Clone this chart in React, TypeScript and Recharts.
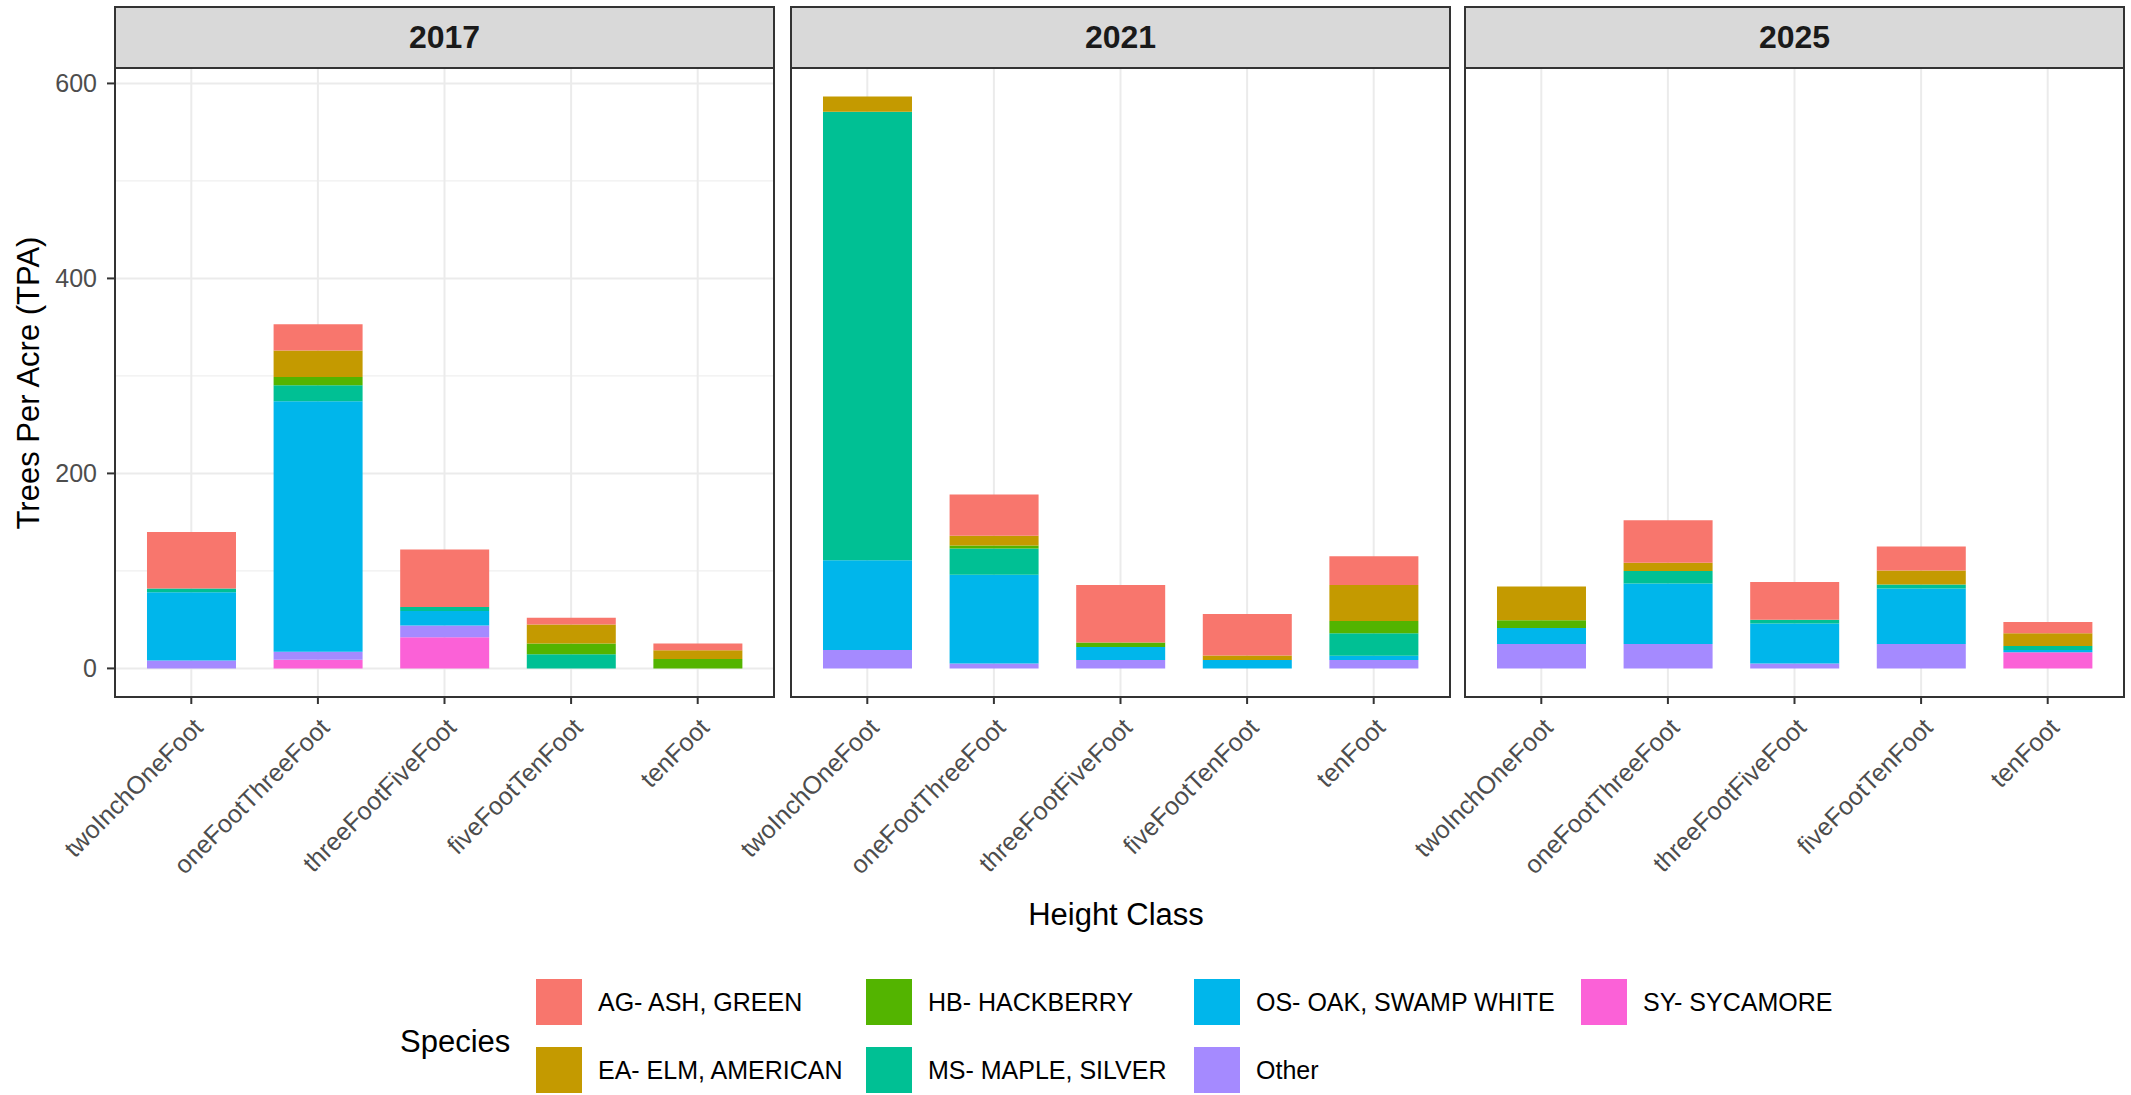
import React from 'react';
import { BarChart, Bar, XAxis, YAxis, CartesianGrid } from 'recharts';

const HEIGHT_CLASSES = ['twoInchOneFoot', 'oneFootThreeFoot', 'threeFootFiveFoot', 'fiveFootTenFoot', 'tenFoot'];
const YEARS = ['2017', '2021', '2025'];

// stack order: first key sits at the bottom of each bar
const STACK_ORDER = ['SY', 'Other', 'OS', 'MS', 'HB', 'EA', 'AG'];
// legend is filled column by column
const LEGEND_ORDER = ['AG', 'EA', 'HB', 'MS', 'OS', 'Other', 'SY'];

const SPECIES_LABELS: Record<string, string> = {
  AG: 'AG- ASH, GREEN',
  EA: 'EA- ELM, AMERICAN',
  HB: 'HB- HACKBERRY',
  MS: 'MS- MAPLE, SILVER',
  OS: 'OS- OAK, SWAMP WHITE',
  Other: 'Other',
  SY: 'SY- SYCAMORE',
};

const SPECIES_COLORS: Record<string, string> = {
  AG: '#F8766D',
  EA: '#C49A00',
  HB: '#53B400',
  MS: '#00C094',
  OS: '#00B6EB',
  Other: '#A58AFF',
  SY: '#FB61D7',
};

// trees per acre, one value per height class
const TPA_2017: Record<string, number[]> = {
  AG: [58, 27, 59, 7, 7],
  EA: [0, 27, 0, 19.5, 9],
  HB: [0, 8.5, 0, 11, 9.6],
  MS: [4, 16.5, 4, 14.5, 0],
  OS: [70, 257, 15, 0, 0],
  Other: [8, 8, 12, 0, 0],
  SY: [0, 9, 32, 0, 0],
};

const TPA_2021: Record<string, number[]> = {
  AG: [0, 42.5, 59, 42.5, 29.5],
  EA: [15.5, 10, 0, 4.8, 37],
  HB: [0, 3, 4.5, 0, 12.5],
  MS: [460, 27, 0, 0, 23],
  OS: [92, 91, 13.5, 8.5, 4.5],
  Other: [19, 5, 8.5, 0, 8.5],
  SY: [0, 0, 0, 0, 0],
};

const TPA_2025: Record<string, number[]> = {
  AG: [0, 43.5, 38.5, 24.5, 11.5],
  EA: [34.5, 8.5, 0, 14.5, 13],
  HB: [8, 0, 0, 0, 0],
  MS: [0, 13, 4, 4, 4],
  OS: [16.5, 62, 41, 57, 2.5],
  Other: [25, 25, 5, 25, 0],
  SY: [0, 0, 0, 0, 16.5],
};

const TPA_BY_YEAR = [TPA_2017, TPA_2021, TPA_2025];

const Y_TICKS = [0, 200, 400, 600];
const Y_MINOR = [100, 300, 500];

const FONT = '"Liberation Sans", Arial, Helvetica, sans-serif';

const PANEL_LEFTS = [115, 791, 1465];
const PANEL_W = 659;
const Y_AXIS_W = 115;
const STRIP_TOP = 7;
const PLOT_TOP = 68;
const PLOT_H = 629;
const XAXIS_H = 200;

function buildRows(tpa: Record<string, number[]>) {
  return HEIGHT_CLASSES.map((name, i) => {
    const row: Record<string, string | number> = { name };
    STACK_ORDER.forEach((k) => {
      row[k] = tpa[k][i];
    });
    return row;
  });
}

// ggplot-style 5% expansion around the tallest stack
const maxStack = Math.max(
  ...TPA_BY_YEAR.flatMap((tpa) =>
    HEIGHT_CLASSES.map((_, i) => STACK_ORDER.reduce((s, k) => s + tpa[k][i], 0))
  )
);
const Y_DOMAIN: [number, number] = [-0.05 * maxStack, 1.05 * maxStack];

function AngledTick(props: any) {
  const { x, y, payload } = props;
  return (
    <g transform={`translate(${x},${y})`}>
      <text
        transform="rotate(-45)"
        textAnchor="end"
        dy="0.74em"
        fill="#4D4D4D"
        fontSize={25}
        fontFamily={FONT}
      >
        {payload.value}
      </text>
    </g>
  );
}

function Panel({ year, tpa, index }: { year: string; tpa: Record<string, number[]>; index: number }) {
  const left = PANEL_LEFTS[index];
  const showY = index === 0;
  const data = buildRows(tpa);
  return (
    <>
      <div
        style={{
          position: 'absolute',
          left: left - 1,
          top: STRIP_TOP - 1,
          width: PANEL_W + 2,
          height: PLOT_TOP - STRIP_TOP + 2,
          boxSizing: 'border-box',
          background: '#D9D9D9',
          border: '2px solid #333333',
          display: 'flex',
          alignItems: 'center',
          justifyContent: 'center',
          fontFamily: FONT,
          fontWeight: 'bold',
          fontSize: 32,
          color: '#1A1A1A',
        }}
      >
        {year}
      </div>
      {/* every panel keeps the same left gutter so rotated labels are not clipped */}
      <div style={{ position: 'absolute', left: left - Y_AXIS_W, top: PLOT_TOP }}>
        <BarChart
          width={PANEL_W + Y_AXIS_W}
          height={PLOT_H + XAXIS_H}
          data={data}
          margin={{ top: 0, right: 0, bottom: 0, left: 0 }}
          barCategoryGap="15%"
        >
          <CartesianGrid horizontalValues={Y_MINOR} vertical={false} stroke="#EBEBEB" strokeWidth={1} />
          <CartesianGrid horizontalValues={Y_TICKS} stroke="#EBEBEB" strokeWidth={2} />
          <XAxis
            dataKey="name"
            type="category"
            interval={0}
            padding={{ left: 13, right: 13 }}
            height={XAXIS_H}
            axisLine={false}
            tickSize={7}
            tickMargin={12}
            tickLine={{ stroke: '#333333', strokeWidth: 2 }}
            tick={<AngledTick />}
          />
          <YAxis
            type="number"
            domain={Y_DOMAIN}
            allowDataOverflow
            ticks={Y_TICKS}
            width={Y_AXIS_W}
            axisLine={false}
            tickSize={8}
            tickMargin={10}
            tickLine={showY ? { stroke: '#333333', strokeWidth: 2 } : false}
            tick={showY ? { fill: '#4D4D4D', fontSize: 25, fontFamily: FONT } : false}
          />
          {STACK_ORDER.map((k) => (
            <Bar key={k} dataKey={k} stackId="tpa" fill={SPECIES_COLORS[k]} isAnimationActive={false} />
          ))}
        </BarChart>
      </div>
      <div
        style={{
          position: 'absolute',
          left: left - 1,
          top: PLOT_TOP - 1,
          width: PANEL_W + 2,
          height: PLOT_H + 2,
          boxSizing: 'border-box',
          border: '2px solid #333333',
          pointerEvents: 'none',
        }}
      />
    </>
  );
}

function LegendBlock() {
  const colX = [536, 866, 1194, 1581];
  const rowY = [979, 1047];
  return (
    <>
      <div
        style={{
          position: 'absolute',
          left: 400,
          top: 1042 - 20,
          height: 40,
          lineHeight: '40px',
          fontFamily: FONT,
          fontSize: 31,
          color: '#000',
        }}
      >
        Species
      </div>
      {LEGEND_ORDER.map((k, i) => {
        const col = Math.floor(i / 2);
        const row = i % 2;
        return (
          <React.Fragment key={k}>
            <div
              style={{
                position: 'absolute',
                left: colX[col],
                top: rowY[row],
                width: 46,
                height: 46,
                background: SPECIES_COLORS[k],
              }}
            />
            <div
              style={{
                position: 'absolute',
                left: colX[col] + 62,
                top: rowY[row],
                height: 46,
                lineHeight: '46px',
                fontFamily: FONT,
                fontSize: 25,
                color: '#000',
                whiteSpace: 'nowrap',
              }}
            >
              {SPECIES_LABELS[k]}
            </div>
          </React.Fragment>
        );
      })}
    </>
  );
}

export default function App() {
  return (
    <div
      style={{
        position: 'absolute',
        left: 0,
        top: 0,
        width: 2131,
        height: 1095,
        background: '#fff',
        overflow: 'hidden',
      }}
    >
      {YEARS.map((year, i) => (
        <Panel key={year} year={year} tpa={TPA_BY_YEAR[i]} index={i} />
      ))}
      <div
        style={{
          position: 'absolute',
          left: 29 - 200,
          top: PLOT_TOP + PLOT_H / 2 - 20,
          width: 400,
          height: 40,
          lineHeight: '40px',
          textAlign: 'center',
          transform: 'rotate(-90deg)',
          fontFamily: FONT,
          fontSize: 31,
          color: '#000',
        }}
      >
        Trees Per Acre (TPA)
      </div>
      <div
        style={{
          position: 'absolute',
          left: 1116 - 200,
          top: 915 - 20,
          width: 400,
          height: 40,
          lineHeight: '40px',
          textAlign: 'center',
          fontFamily: FONT,
          fontSize: 31,
          color: '#000',
        }}
      >
        Height Class
      </div>
      <LegendBlock />
    </div>
  );
}
